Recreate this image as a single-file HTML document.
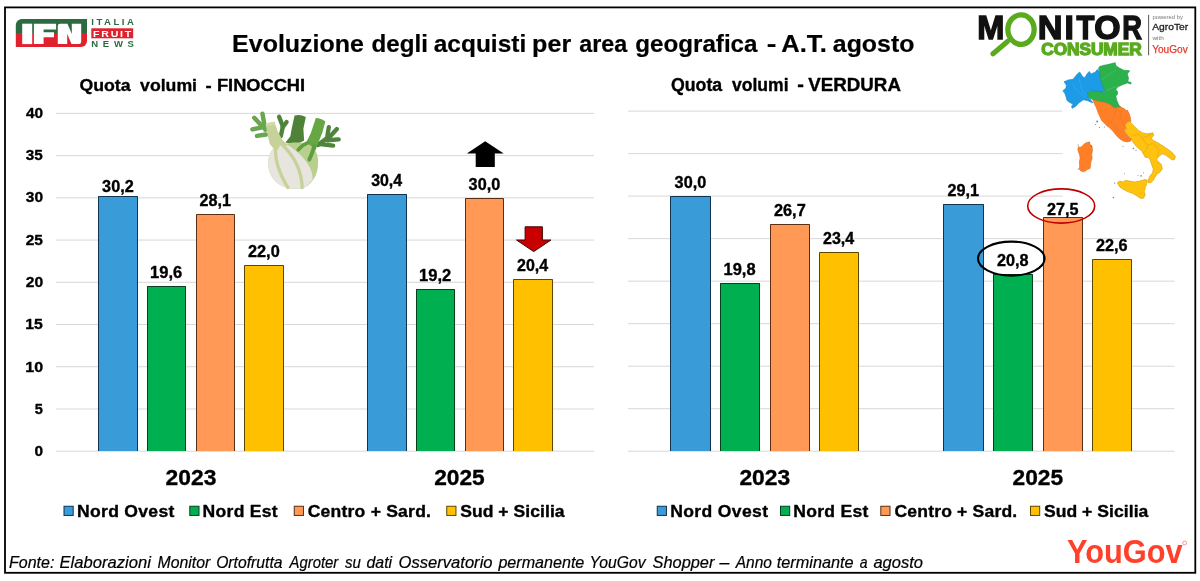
<!DOCTYPE html>
<html><head><meta charset="utf-8"><title>Evoluzione degli acquisti per area geografica</title>
<style>
html,body{margin:0;padding:0;background:#fff;}
body{width:1200px;height:581px;overflow:hidden;font-family:"Liberation Sans",sans-serif;}
svg{display:block;font-family:"Liberation Sans",sans-serif;will-change:transform;}
text{white-space:pre;}
.k{stroke:#000;stroke-width:0.35px;stroke-linejoin:round;}
</style></head><body>
<svg width="1200" height="581" viewBox="0 0 1200 581">
<rect x="0" y="0" width="1200" height="581" fill="#ffffff"/>

<g id="chart1">
<rect x="56" y="112.90" width="538.00" height="1" fill="#d8d8d8"/>
<text x="26.02" y="117.50" font-size="15.2" font-weight="bold" text-anchor="start" fill="#000" textLength="17.08" lengthAdjust="spacingAndGlyphs" class="k">40</text>
<rect x="56" y="155.12" width="538.00" height="1" fill="#d8d8d8"/>
<text x="25.87" y="159.85" font-size="15.2" font-weight="bold" text-anchor="start" fill="#000" textLength="17.00" lengthAdjust="spacingAndGlyphs" class="k">35</text>
<rect x="56" y="197.35" width="538.00" height="1" fill="#d8d8d8"/>
<text x="25.86" y="202.20" font-size="15.2" font-weight="bold" text-anchor="start" fill="#000" textLength="17.24" lengthAdjust="spacingAndGlyphs" class="k">30</text>
<rect x="56" y="239.57" width="538.00" height="1" fill="#d8d8d8"/>
<text x="25.71" y="244.55" font-size="15.2" font-weight="bold" text-anchor="start" fill="#000" textLength="17.16" lengthAdjust="spacingAndGlyphs" class="k">25</text>
<rect x="56" y="281.80" width="538.00" height="1" fill="#d8d8d8"/>
<text x="25.70" y="286.90" font-size="15.2" font-weight="bold" text-anchor="start" fill="#000" textLength="17.41" lengthAdjust="spacingAndGlyphs" class="k">20</text>
<rect x="56" y="324.02" width="538.00" height="1" fill="#d8d8d8"/>
<text x="25.30" y="329.25" font-size="15.2" font-weight="bold" text-anchor="start" fill="#000" textLength="17.58" lengthAdjust="spacingAndGlyphs" class="k">15</text>
<rect x="56" y="366.25" width="538.00" height="1" fill="#d8d8d8"/>
<text x="25.29" y="371.60" font-size="15.2" font-weight="bold" text-anchor="start" fill="#000" textLength="17.84" lengthAdjust="spacingAndGlyphs" class="k">10</text>
<rect x="56" y="408.47" width="538.00" height="1" fill="#d8d8d8"/>
<text x="34.71" y="413.95" font-size="15.2" font-weight="bold" text-anchor="start" fill="#000" textLength="8.12" lengthAdjust="spacingAndGlyphs" class="k">5</text>
<rect x="56" y="450.70" width="538.00" height="1" fill="#d8d8d8"/>
<text x="34.54" y="456.30" font-size="15.2" font-weight="bold" text-anchor="start" fill="#000" textLength="8.55" lengthAdjust="spacingAndGlyphs" class="k">0</text>
<rect x="98" y="196" width="40" height="255" fill="#3a9bd9"/>
<path d="M98.5,451 V196.5 H137.5 V451" fill="none" stroke="#12324d" stroke-width="1"/>
<text x="102.14" y="192.06" font-size="15.6" font-weight="bold" text-anchor="start" fill="#000" textLength="31.58" lengthAdjust="spacingAndGlyphs" class="k">30,2</text>
<rect x="147" y="286" width="39" height="165" fill="#00b050"/>
<path d="M147.5,451 V286.5 H185.5 V451" fill="none" stroke="#06401f" stroke-width="1"/>
<text x="150.06" y="277.58" font-size="15.6" font-weight="bold" text-anchor="start" fill="#000" textLength="32.09" lengthAdjust="spacingAndGlyphs" class="k">19,6</text>
<rect x="196" y="214" width="39" height="237" fill="#ff9955"/>
<path d="M196.5,451 V214.5 H234.5 V451" fill="none" stroke="#5a2f14" stroke-width="1"/>
<text x="199.48" y="205.80" font-size="15.6" font-weight="bold" text-anchor="start" fill="#000" textLength="31.49" lengthAdjust="spacingAndGlyphs" class="k">28,1</text>
<rect x="244" y="265" width="40" height="186" fill="#ffc000"/>
<path d="M244.5,451 V265.5 H283.5 V451" fill="none" stroke="#5e4700" stroke-width="1"/>
<text x="247.98" y="257.31" font-size="15.6" font-weight="bold" text-anchor="start" fill="#000" textLength="31.74" lengthAdjust="spacingAndGlyphs" class="k">22,0</text>
<rect x="367" y="194" width="40" height="257" fill="#3a9bd9"/>
<path d="M367.5,451 V194.5 H406.5 V451" fill="none" stroke="#12324d" stroke-width="1"/>
<text x="371.15" y="186.37" font-size="15.6" font-weight="bold" text-anchor="start" fill="#000" textLength="31.00" lengthAdjust="spacingAndGlyphs" class="k">30,4</text>
<rect x="416" y="289" width="39" height="162" fill="#00b050"/>
<path d="M416.5,451 V289.5 H454.5 V451" fill="none" stroke="#06401f" stroke-width="1"/>
<text x="419.06" y="280.96" font-size="15.6" font-weight="bold" text-anchor="start" fill="#000" textLength="32.18" lengthAdjust="spacingAndGlyphs" class="k">19,2</text>
<rect x="465" y="198" width="39" height="253" fill="#ff9955"/>
<path d="M465.5,451 V198.5 H503.5 V451" fill="none" stroke="#5a2f14" stroke-width="1"/>
<text x="468.64" y="189.75" font-size="15.6" font-weight="bold" text-anchor="start" fill="#000" textLength="31.58" lengthAdjust="spacingAndGlyphs" class="k">30,0</text>
<rect x="513" y="279" width="40" height="172" fill="#ffc000"/>
<path d="M513.5,451 V279.5 H552.5 V451" fill="none" stroke="#5e4700" stroke-width="1"/>
<text x="516.99" y="270.82" font-size="15.6" font-weight="bold" text-anchor="start" fill="#000" textLength="31.16" lengthAdjust="spacingAndGlyphs" class="k">20,4</text>
</g>
<g id="chart2">
<rect x="628" y="110.60" width="434.50" height="1" fill="#d8d8d8"/>
<rect x="628" y="153.11" width="434.50" height="1" fill="#d8d8d8"/>
<rect x="628" y="195.62" width="434.50" height="1" fill="#d8d8d8"/>
<rect x="628" y="238.14" width="546.50" height="1" fill="#d8d8d8"/>
<rect x="628" y="280.65" width="546.50" height="1" fill="#d8d8d8"/>
<rect x="628" y="323.16" width="546.50" height="1" fill="#d8d8d8"/>
<rect x="628" y="365.68" width="546.50" height="1" fill="#d8d8d8"/>
<rect x="628" y="408.19" width="546.50" height="1" fill="#d8d8d8"/>
<rect x="628" y="450.70" width="546.50" height="1" fill="#d8d8d8"/>
<rect x="670" y="196" width="41" height="255" fill="#3a9bd9"/>
<path d="M670.5,451 V196.5 H710.5 V451" fill="none" stroke="#12324d" stroke-width="1"/>
<text x="674.64" y="188.02" font-size="15.6" font-weight="bold" text-anchor="start" fill="#000" textLength="31.58" lengthAdjust="spacingAndGlyphs" class="k">30,0</text>
<rect x="720" y="283" width="40" height="168" fill="#00b050"/>
<path d="M720.5,451 V283.5 H759.5 V451" fill="none" stroke="#06401f" stroke-width="1"/>
<text x="723.56" y="274.75" font-size="15.6" font-weight="bold" text-anchor="start" fill="#000" textLength="32.00" lengthAdjust="spacingAndGlyphs" class="k">19,8</text>
<rect x="770" y="224" width="40" height="227" fill="#ff9955"/>
<path d="M770.5,451 V224.5 H809.5 V451" fill="none" stroke="#5a2f14" stroke-width="1"/>
<text x="773.98" y="216.08" font-size="15.6" font-weight="bold" text-anchor="start" fill="#000" textLength="31.74" lengthAdjust="spacingAndGlyphs" class="k">26,7</text>
<rect x="819" y="252" width="40" height="199" fill="#ffc000"/>
<path d="M819.5,451 V252.5 H858.5 V451" fill="none" stroke="#5e4700" stroke-width="1"/>
<text x="822.99" y="244.14" font-size="15.6" font-weight="bold" text-anchor="start" fill="#000" textLength="31.16" lengthAdjust="spacingAndGlyphs" class="k">23,4</text>
<rect x="943" y="204" width="41" height="247" fill="#3a9bd9"/>
<path d="M943.5,451 V204.5 H983.5 V451" fill="none" stroke="#12324d" stroke-width="1"/>
<text x="947.48" y="195.68" font-size="15.6" font-weight="bold" text-anchor="start" fill="#000" textLength="31.49" lengthAdjust="spacingAndGlyphs" class="k">29,1</text>
<rect x="993" y="274" width="40" height="177" fill="#00b050"/>
<path d="M993.5,451 V274.5 H1032.5 V451" fill="none" stroke="#06401f" stroke-width="1"/>
<text x="996.98" y="266.25" font-size="15.6" font-weight="bold" text-anchor="start" fill="#000" textLength="31.58" lengthAdjust="spacingAndGlyphs" class="k">20,8</text>
<rect x="1043" y="217" width="40" height="234" fill="#ff9955"/>
<path d="M1043.5,451 V217.5 H1082.5 V451" fill="none" stroke="#5a2f14" stroke-width="1"/>
<text x="1046.98" y="214.78" font-size="15.6" font-weight="bold" text-anchor="start" fill="#000" textLength="31.49" lengthAdjust="spacingAndGlyphs" class="k">27,5</text>
<rect x="1092" y="259" width="40" height="192" fill="#ffc000"/>
<path d="M1092.5,451 V259.5 H1131.5 V451" fill="none" stroke="#5e4700" stroke-width="1"/>
<text x="1095.98" y="250.94" font-size="15.6" font-weight="bold" text-anchor="start" fill="#000" textLength="31.66" lengthAdjust="spacingAndGlyphs" class="k">22,6</text>
</g>
<g id="fennel" transform="translate(245,108) scale(0.1445)" stroke-linecap="round" stroke-linejoin="round" fill="none">
<g stroke="#68a64f" stroke-width="31"><path d="M140,150 L121,40"/><path d="M117,124 L64,68"/><path d="M130,132 L51,148"/><path d="M146,184 L83,193"/></g>
<g stroke="#4e853a" stroke-width="30"><path d="M236,60 L262,128"/><path d="M288,97 L262,132"/><path d="M262,128 L248,195"/></g>
<g stroke="#4e853a" stroke-width="30"><path d="M505,256 L584,196"/><path d="M580,132 L570,192"/><path d="M636,146 L588,197"/><path d="M648,217 L572,223"/><path d="M610,260 L520,249"/></g>
<path d="M343,52 Q382,40 421,62 L404,144 L409,225 L350,256 L280,238 L314,196 L323,144 Z" fill="#4f8239"/>
<path d="M490,69 Q528,70 556,93 L536,167 L507,242 L488,292 L440,305 L380,290 L427,231 L456,173 Z" fill="#67a644"/>
<path d="M215,262 C180,290 158,340 161,390 C164,440 180,480 215,510 C250,545 300,560 372,559 C410,557 440,540 468,500 C495,470 508,420 506,360 C504,310 480,270 440,250 C400,235 330,238 290,245 Z" fill="#b9cf8e"/>
<path d="M215,262 C180,290 158,340 161,390 C164,440 180,480 215,510 C250,545 300,560 372,559 C410,557 440,540 468,490 C470,440 440,380 372,314 C340,285 300,255 273,246 Z" fill="#e7e5de"/>
<path d="M212,268 C206,340 222,430 297,551" stroke="#c6d29a" stroke-width="23"/>
<path d="M266,262 C332,328 392,430 396,551" stroke="#c6d29a" stroke-width="23"/>
<path d="M368,290 C390,262 410,250 436,240" stroke="#5f9e3f" stroke-width="25"/>
<path d="M445,356 C465,320 470,290 480,262" stroke="#5f9e3f" stroke-width="27"/>
<path d="M144,117 Q165,96 210,114 L228,165 L255,215 L292,256 L276,276 L244,258 L224,292 L200,282 L172,250 L158,195 Z" fill="#c6d29a"/>
<ellipse cx="177" cy="110" rx="35" ry="12" transform="rotate(-12 177 110)" fill="#d3dba8"/>
</g>
<polygon points="485.2,141.2 503.7,153.5 494.8,153.5 494.8,166.9 475.7,166.9 475.7,153.5 466.8,153.5" fill="#000"/>
<polygon points="525.1,226.8 542.4,226.8 542.4,240 551,240 533.7,251.6 516.5,240 525.1,240" fill="#c90000" stroke="#3d0808" stroke-width="1" stroke-linejoin="miter"/>
<ellipse cx="1011.3" cy="258.6" rx="33.3" ry="17" fill="none" stroke="#000" stroke-width="2.1"/>
<ellipse cx="1061.2" cy="206" rx="33.5" ry="17.1" fill="none" stroke="#c00000" stroke-width="1.6"/>
<rect x="5" y="7.4" width="1190.3" height="565.4" fill="none" stroke="#000" stroke-width="1.8"/>
<text x="232.13" y="52.2" font-size="23.6" font-weight="bold" text-anchor="start" fill="#000" textLength="131.83" lengthAdjust="spacingAndGlyphs" stroke="#000" stroke-width="0.2">Evoluzione</text>
<text x="371.53" y="52.2" font-size="23.6" font-weight="bold" text-anchor="start" fill="#000" textLength="56.37" lengthAdjust="spacingAndGlyphs" stroke="#000" stroke-width="0.2">degli</text>
<text x="433.77" y="52.2" font-size="23.6" font-weight="bold" text-anchor="start" fill="#000" textLength="92.42" lengthAdjust="spacingAndGlyphs" stroke="#000" stroke-width="0.2">acquisti</text>
<text x="532.12" y="52.2" font-size="23.6" font-weight="bold" text-anchor="start" fill="#000" textLength="39.04" lengthAdjust="spacingAndGlyphs" stroke="#000" stroke-width="0.2">per</text>
<text x="579.30" y="52.2" font-size="23.6" font-weight="bold" text-anchor="start" fill="#000" textLength="48.03" lengthAdjust="spacingAndGlyphs" stroke="#000" stroke-width="0.2">area</text>
<text x="635.28" y="52.2" font-size="23.6" font-weight="bold" text-anchor="start" fill="#000" textLength="122.23" lengthAdjust="spacingAndGlyphs" stroke="#000" stroke-width="0.2">geografica</text>
<text x="766.84" y="52.2" font-size="23.6" font-weight="bold" text-anchor="start" fill="#000" textLength="9.66" lengthAdjust="spacingAndGlyphs" stroke="#000" stroke-width="0.2">-</text>
<text x="781.36" y="52.2" font-size="23.6" font-weight="bold" text-anchor="start" fill="#000" textLength="45.37" lengthAdjust="spacingAndGlyphs" stroke="#000" stroke-width="0.2">A.T.</text>
<text x="832.85" y="52.2" font-size="23.6" font-weight="bold" text-anchor="start" fill="#000" textLength="81.51" lengthAdjust="spacingAndGlyphs" stroke="#000" stroke-width="0.2">agosto</text>
<text x="79.44" y="91.4" font-size="17.4" font-weight="bold" text-anchor="start" fill="#000" textLength="51.21" lengthAdjust="spacingAndGlyphs" class="k">Quota</text>
<text x="140.06" y="91.4" font-size="17.4" font-weight="bold" text-anchor="start" fill="#000" textLength="56.98" lengthAdjust="spacingAndGlyphs" class="k">volumi</text>
<text x="205.41" y="91.4" font-size="17.4" font-weight="bold" text-anchor="start" fill="#000" textLength="6.14" lengthAdjust="spacingAndGlyphs" class="k">-</text>
<text x="216.96" y="91.4" font-size="17.4" font-weight="bold" text-anchor="start" fill="#000" textLength="88.13" lengthAdjust="spacingAndGlyphs" class="k">FINOCCHI</text>
<text x="670.94" y="90.8" font-size="17.5" font-weight="bold" text-anchor="start" fill="#000" textLength="51.21" lengthAdjust="spacingAndGlyphs" class="k">Quota</text>
<text x="731.96" y="90.8" font-size="17.5" font-weight="bold" text-anchor="start" fill="#000" textLength="56.58" lengthAdjust="spacingAndGlyphs" class="k">volumi</text>
<text x="797.25" y="90.8" font-size="17.5" font-weight="bold" text-anchor="start" fill="#000" textLength="6.66" lengthAdjust="spacingAndGlyphs" class="k">-</text>
<text x="808.36" y="90.8" font-size="17.5" font-weight="bold" text-anchor="start" fill="#000" textLength="92.56" lengthAdjust="spacingAndGlyphs" class="k">VERDURA</text>
<text x="165.60" y="485.2" font-size="22.8" font-weight="bold" text-anchor="start" fill="#000" textLength="50.79" lengthAdjust="spacingAndGlyphs" class="k">2023</text>
<text x="434.20" y="485.2" font-size="22.8" font-weight="bold" text-anchor="start" fill="#000" textLength="50.56" lengthAdjust="spacingAndGlyphs" class="k">2025</text>
<text x="739.40" y="485.2" font-size="22.8" font-weight="bold" text-anchor="start" fill="#000" textLength="50.79" lengthAdjust="spacingAndGlyphs" class="k">2023</text>
<text x="1012.50" y="485.2" font-size="22.8" font-weight="bold" text-anchor="start" fill="#000" textLength="50.56" lengthAdjust="spacingAndGlyphs" class="k">2025</text>
<rect x="64.00" y="506.25" width="9.2" height="9.2" fill="#3a9bd9" stroke="#12324d" stroke-width="1"/>
<text transform="translate(78.15,516.7) scale(1.07,1)" x="-1.07" y="0" font-size="16.4" font-weight="bold" fill="#000" letter-spacing="0.288" class="k">Nord Ovest</text>
<rect x="189.80" y="506.25" width="9.2" height="9.2" fill="#00b050" stroke="#06401f" stroke-width="1"/>
<text transform="translate(203.75,516.7) scale(1.07,1)" x="-1.07" y="0" font-size="16.4" font-weight="bold" fill="#000" letter-spacing="0.271" class="k">Nord Est</text>
<rect x="294.25" y="506.25" width="9.2" height="9.2" fill="#ff9955" stroke="#5a2f14" stroke-width="1"/>
<text transform="translate(308.40,516.7) scale(1.07,1)" x="-0.66" y="0" font-size="16.4" font-weight="bold" fill="#000" letter-spacing="0.209" class="k">Centro + Sard.</text>
<rect x="446.75" y="506.25" width="9.2" height="9.2" fill="#ffc000" stroke="#5e4700" stroke-width="1"/>
<text transform="translate(460.65,516.7) scale(1.07,1)" x="-0.49" y="0" font-size="16.4" font-weight="bold" fill="#000" letter-spacing="0.052" class="k">Sud + Sicilia</text>
<rect x="657.25" y="506.25" width="9.2" height="9.2" fill="#3a9bd9" stroke="#12324d" stroke-width="1"/>
<text transform="translate(671.40,516.7) scale(1.07,1)" x="-1.07" y="0" font-size="16.4" font-weight="bold" fill="#000" letter-spacing="0.340" class="k">Nord Ovest</text>
<rect x="780.50" y="506.25" width="9.2" height="9.2" fill="#00b050" stroke="#06401f" stroke-width="1"/>
<text transform="translate(794.40,516.7) scale(1.07,1)" x="-1.07" y="0" font-size="16.4" font-weight="bold" fill="#000" letter-spacing="0.258" class="k">Nord Est</text>
<rect x="880.80" y="506.25" width="9.2" height="9.2" fill="#ff9955" stroke="#5a2f14" stroke-width="1"/>
<text transform="translate(895.15,516.7) scale(1.07,1)" x="-0.66" y="0" font-size="16.4" font-weight="bold" fill="#000" letter-spacing="0.173" class="k">Centro + Sard.</text>
<rect x="1030.50" y="506.25" width="9.2" height="9.2" fill="#ffc000" stroke="#5e4700" stroke-width="1"/>
<text transform="translate(1044.40,516.7) scale(1.07,1)" x="-0.49" y="0" font-size="16.4" font-weight="bold" fill="#000" letter-spacing="0.052" class="k">Sud + Sicilia</text>
<text x="9.02" y="567.6" font-size="16.2" font-weight="normal" font-style="italic" text-anchor="start" fill="#000" textLength="45.37" lengthAdjust="spacingAndGlyphs" stroke="#000" stroke-width="0.2">Fonte:</text>
<text x="59.50" y="567.6" font-size="16.2" font-weight="normal" font-style="italic" text-anchor="start" fill="#000" textLength="91.39" lengthAdjust="spacingAndGlyphs" stroke="#000" stroke-width="0.2">Elaborazioni</text>
<text x="157.53" y="567.6" font-size="16.2" font-weight="normal" font-style="italic" text-anchor="start" fill="#000" textLength="52.74" lengthAdjust="spacingAndGlyphs" stroke="#000" stroke-width="0.2">Monitor</text>
<text x="216.14" y="567.6" font-size="16.2" font-weight="normal" font-style="italic" text-anchor="start" fill="#000" textLength="66.39" lengthAdjust="spacingAndGlyphs" stroke="#000" stroke-width="0.2">Ortofrutta</text>
<text x="289.49" y="567.6" font-size="16.2" font-weight="normal" font-style="italic" text-anchor="start" fill="#000" textLength="48.80" lengthAdjust="spacingAndGlyphs" stroke="#000" stroke-width="0.2">Agroter</text>
<text x="344.92" y="567.6" font-size="16.2" font-weight="normal" font-style="italic" text-anchor="start" fill="#000" textLength="15.89" lengthAdjust="spacingAndGlyphs" stroke="#000" stroke-width="0.2">su</text>
<text x="366.44" y="567.6" font-size="16.2" font-weight="normal" font-style="italic" text-anchor="start" fill="#000" textLength="25.70" lengthAdjust="spacingAndGlyphs" stroke="#000" stroke-width="0.2">dati</text>
<text x="398.59" y="567.6" font-size="16.2" font-weight="normal" font-style="italic" text-anchor="start" fill="#000" textLength="93.97" lengthAdjust="spacingAndGlyphs" stroke="#000" stroke-width="0.2">Osservatorio</text>
<text x="498.40" y="567.6" font-size="16.2" font-weight="normal" font-style="italic" text-anchor="start" fill="#000" textLength="85.95" lengthAdjust="spacingAndGlyphs" stroke="#000" stroke-width="0.2">permanente</text>
<text x="589.60" y="567.6" font-size="16.2" font-weight="normal" font-style="italic" text-anchor="start" fill="#000" textLength="55.91" lengthAdjust="spacingAndGlyphs" stroke="#000" stroke-width="0.2">YouGov</text>
<text x="652.51" y="567.6" font-size="16.2" font-weight="normal" font-style="italic" text-anchor="start" fill="#000" textLength="61.93" lengthAdjust="spacingAndGlyphs" stroke="#000" stroke-width="0.2">Shopper</text>
<text x="719.59" y="567.6" font-size="16.2" font-weight="normal" font-style="italic" text-anchor="start" fill="#000" textLength="9.84" lengthAdjust="spacingAndGlyphs" stroke="#000" stroke-width="0.2">–</text>
<text x="735.77" y="567.6" font-size="16.2" font-weight="normal" font-style="italic" text-anchor="start" fill="#000" textLength="36.20" lengthAdjust="spacingAndGlyphs" stroke="#000" stroke-width="0.2">Anno</text>
<text x="776.77" y="567.6" font-size="16.2" font-weight="normal" font-style="italic" text-anchor="start" fill="#000" textLength="76.80" lengthAdjust="spacingAndGlyphs" stroke="#000" stroke-width="0.2">terminante</text>
<text x="859.72" y="567.6" font-size="16.2" font-weight="normal" font-style="italic" text-anchor="start" fill="#000" textLength="7.79" lengthAdjust="spacingAndGlyphs" stroke="#000" stroke-width="0.2">a</text>
<text x="873.42" y="567.6" font-size="16.2" font-weight="normal" font-style="italic" text-anchor="start" fill="#000" textLength="49.62" lengthAdjust="spacingAndGlyphs" stroke="#000" stroke-width="0.2">agosto</text>
<text x="1066.98" y="563.2" font-size="33.6" font-weight="bold" text-anchor="start" fill="#ff412c" textLength="115.65" lengthAdjust="spacingAndGlyphs" >YouGov</text>
<circle cx="1184.6" cy="543" r="1.9" fill="none" stroke="#ff6a58" stroke-width="0.7"/>
<g id="ifn">
<path d="M22,19 H87 V33.1 H15.8 V25 A6,6 0 0 1 22,19 Z" fill="#2c6a3f"/>
<path d="M15.8,33.1 H87 V41 A6,6 0 0 1 81,47 H15.8 Z" fill="#e0222e"/>
<rect x="22.2" y="23.7" width="10" height="20.4" fill="#fff"/>
<path d="M33.9,23.7 H56.1 V29.5 H43.6 V32.3 H54 V37.2 H43.6 V44.1 H33.9 Z" fill="#fff"/>
<path d="M57.8,26 Q57.8,23.7 60,23.7 H67.5 L71.8,34 V23.7 H81.2 V41.8 Q81.2,44.1 79,44.1 H71.5 L67.2,33.8 V44.1 H57.8 Z" fill="#fff"/>
<text transform="translate(91.90,25.2) scale(1.07,1)" x="-0.58" y="0" font-size="8.9" font-weight="bold" fill="#2c6a3f" letter-spacing="2.356" >ITALIA</text>
<rect x="91.3" y="28.3" width="41.9" height="10" fill="#e0222e"/>
<text transform="translate(93.60,36.7) scale(1.07,1)" x="-0.64" y="0" font-size="9.9" font-weight="bold" fill="#fff" letter-spacing="1.682" >FRUIT</text>
<text transform="translate(91.90,47.1) scale(1.07,1)" x="-0.58" y="0" font-size="8.9" font-weight="bold" fill="#2c6a3f" letter-spacing="4.387" >NEWS</text>
</g>
<g id="monitor">
<text x="977.28" y="38.6" font-size="33.2" font-weight="bold" text-anchor="start" fill="#111" textLength="27.13" lengthAdjust="spacingAndGlyphs" stroke="#111" stroke-width="1.4" stroke-linejoin="miter">M</text>
<text x="1037.77" y="38.6" font-size="33.2" font-weight="bold" text-anchor="start" fill="#111" textLength="24.73" lengthAdjust="spacingAndGlyphs" stroke="#111" stroke-width="1.4" stroke-linejoin="miter">N</text>
<text x="1064.60" y="38.6" font-size="33.2" font-weight="bold" text-anchor="start" fill="#111" textLength="9.39" lengthAdjust="spacingAndGlyphs" stroke="#111" stroke-width="1.4" stroke-linejoin="miter">I</text>
<text x="1076.61" y="38.6" font-size="33.2" font-weight="bold" text-anchor="start" fill="#111" textLength="17.91" lengthAdjust="spacingAndGlyphs" stroke="#111" stroke-width="1.4" stroke-linejoin="miter">T</text>
<text x="1094.25" y="38.6" font-size="33.2" font-weight="bold" text-anchor="start" fill="#111" textLength="26.30" lengthAdjust="spacingAndGlyphs" stroke="#111" stroke-width="1.4" stroke-linejoin="miter">O</text>
<text x="1122.13" y="38.6" font-size="33.2" font-weight="bold" text-anchor="start" fill="#111" textLength="19.68" lengthAdjust="spacingAndGlyphs" stroke="#111" stroke-width="1.4" stroke-linejoin="miter">R</text>
<ellipse cx="1021" cy="29.6" rx="13.15" ry="14.8" fill="none" stroke="#5aaa1e" stroke-width="5.3"/>
<line x1="1007.5" y1="41.5" x2="993" y2="53.8" stroke="#5aaa1e" stroke-width="5.1" stroke-linecap="round"/>
<text x="1041.21" y="54.7" font-size="16.2" font-weight="bold" text-anchor="start" fill="#5aaa1e" textLength="100.40" lengthAdjust="spacingAndGlyphs" stroke="#5aaa1e" stroke-width="1.3" stroke-linejoin="miter">CONSUMER</text>
<rect x="1148.1" y="14.8" width="1" height="40.5" fill="#555"/>
<text x="1152.4" y="19.1" font-size="5.7" font-weight="normal" text-anchor="start" fill="#777" textLength="30.5" lengthAdjust="spacingAndGlyphs" >powered by</text>
<text x="1152.2" y="29.8" font-size="9.9" font-weight="normal" text-anchor="start" fill="#222" textLength="36" lengthAdjust="spacingAndGlyphs" stroke="#222" stroke-width="0.3">AgroTer</text>
<text x="1152.4" y="39.8" font-size="5.7" font-weight="normal" text-anchor="start" fill="#777" textLength="11.4" lengthAdjust="spacingAndGlyphs" >with</text>
<text x="1152.2" y="52.6" font-size="10.8" font-weight="normal" text-anchor="start" fill="#e8392c" textLength="35.5" lengthAdjust="spacingAndGlyphs" stroke="#e8392c" stroke-width="0.25">YouGov</text>
<path d="M1187.6,45.6 l1.2,-1" stroke="#e8392c" stroke-width="0.5"/>
</g>
<g id="italy" stroke-linejoin="round">
<polygon points="1064.0,81.7 1068.3,79.9 1073.1,79.3 1077.3,73.9 1079.7,72.0 1082.1,75.7 1084.5,78.1 1087.5,73.3 1089.3,71.4 1091.1,73.9 1095.4,72.0 1097.2,69.6 1099.6,71.4 1100.2,75.7 1101.4,81.7 1102.6,85.9 1105.0,90.1 1105.6,92.5 1102.0,91.9 1096.0,91.1 1090.5,91.3 1088.1,93.1 1088.1,96.1 1091.1,100.4 1093.0,102.8 1091.1,102.2 1086.9,100.4 1083.3,99.8 1079.1,102.8 1075.5,106.4 1072.5,108.2 1071.3,107.0 1073.1,104.0 1070.1,102.8 1067.0,100.4 1065.8,96.1 1064.6,93.1 1062.8,90.7 1065.8,88.3 1066.4,85.3" fill="#1c9be6" stroke="#1c86c4" stroke-width="0.6"/>
<polygon points="1099.6,66.6 1103.2,65.4 1106.8,64.8 1111.6,63.6 1115.2,62.7 1115.8,65.4 1118.9,67.8 1123.7,70.2 1129.7,70.8 1127.3,73.9 1128.5,78.1 1127.9,81.7 1130.9,82.3 1131.1,84.1 1127.3,82.9 1122.5,84.7 1117.7,87.1 1115.8,89.5 1117.7,91.9 1117.4,94.3 1115.8,96.1 1117.0,101.0 1118.9,105.2 1120.7,107.0 1117.7,107.0 1115.2,108.2 1112.8,107.0 1111.0,105.2 1108.0,103.4 1103.2,102.2 1097.2,101.0 1093.0,99.8 1089.9,98.0 1088.1,96.1 1088.1,93.1 1090.5,91.3 1096.0,91.1 1102.0,91.9 1105.6,92.5 1105.0,90.1 1102.6,85.9 1101.4,81.7 1100.2,75.7 1099.6,71.4 1098.4,68.4" fill="#2bb24c" stroke="#23963f" stroke-width="0.6"/>
<polygon points="1093.0,99.8 1097.2,101.0 1103.2,102.2 1108.0,103.4 1111.0,105.2 1112.8,107.0 1115.2,108.2 1117.7,107.0 1120.7,107.0 1124.3,108.8 1127.3,111.2 1127.3,110.0 1129.1,113.6 1130.3,117.2 1130.9,121.4 1128.5,121.4 1126.1,123.3 1124.9,125.7 1126.1,128.1 1124.3,130.5 1125.5,132.9 1127.3,135.3 1129.7,137.1 1131.5,138.9 1130.3,141.3 1127.3,141.9 1123.7,141.3 1120.7,139.5 1117.7,137.1 1115.2,134.1 1112.8,131.1 1109.8,128.1 1106.8,125.7 1104.4,123.3 1101.4,120.2 1100.2,117.2 1098.4,113.6 1097.2,110.0 1096.0,107.0 1094.2,103.4" fill="#ff7f27" stroke="#e06c1a" stroke-width="0.6"/>
<polygon points="1086.7,142.4 1089.4,142.4 1090.5,144.7 1092.1,146.6 1092.5,150.5 1091.7,154.4 1092.1,158.3 1090.9,162.1 1090.5,166.0 1090.2,168.3 1088.6,169.1 1087.1,169.5 1085.5,171.0 1083.2,171.8 1080.9,171.0 1079.3,169.1 1079.7,166.0 1079.3,162.1 1080.1,158.3 1079.7,155.2 1078.5,152.1 1077.8,149.3 1078.5,146.6 1080.1,147.4 1082.4,145.9 1084.7,143.5" fill="#ff7f27" stroke="#e06c1a" stroke-width="0.6"/>
<circle cx="1078.1" cy="145.1" r="0.7" fill="#4a5f73" opacity="0.7"/>
<circle cx="1089.1" cy="142.2" r="0.7" fill="#4a5f73" opacity="0.7"/>
<circle cx="1091.5" cy="145.9" r="0.7" fill="#4a5f73" opacity="0.7"/>
<circle cx="1078.5" cy="169.1" r="0.7" fill="#4a5f73" opacity="0.7"/>
<polygon points="1127.2,122.3 1130.4,122.3 1134.5,126.4 1138.6,130.4 1142.7,132.9 1147.6,133.7 1152.9,132.9 1153.8,135.4 1151.7,137.8 1152.2,139.9 1156.3,141.9 1161.5,145.0 1167.2,148.8 1172.2,152.4 1175.4,156.5 1174.6,159.4 1172.2,160.0 1169.2,157.8 1165.9,155.3 1162.3,153.8 1159.6,155.8 1157.4,158.2 1156.6,159.9 1159.1,162.3 1161.5,164.8 1162.3,168.9 1159.9,172.2 1157.4,173.8 1155.0,177.1 1153.3,180.3 1150.9,182.8 1148.4,182.8 1148.4,179.5 1150.1,175.4 1152.5,173.0 1153.3,168.9 1151.7,164.8 1150.1,159.9 1148.4,157.4 1145.2,157.4 1143.5,154.2 1141.9,150.9 1138.6,148.4 1135.4,145.2 1132.9,141.9 1131.3,139.4 1131.3,137.0 1128.8,135.4 1126.4,133.7 1124.7,131.3 1126.4,128.8 1125.5,126.4" fill="#ffc20e" stroke="#d39e00" stroke-width="0.6"/>
<polygon points="1117.4,182.8 1119.8,181.1 1123.1,182.0 1125.5,180.3 1129.6,181.1 1134.5,182.0 1139.4,181.1 1145.2,179.5 1147.6,180.3 1146.8,183.6 1145.2,187.7 1144.3,191.8 1145.2,195.1 1143.5,198.3 1140.3,198.3 1137.0,195.9 1132.9,193.4 1128.0,191.8 1123.1,189.3 1119.8,186.9 1118.2,184.4" fill="#ffc20e" stroke="#d39e00" stroke-width="0.6"/>
<g fill="none" stroke="#c9991a" stroke-width="0.5" opacity="0.8">
<polyline points="1132.9,135.4 1138.6,134.5 1141.9,137.8 1145.2,142.7 1147.6,145.2 1146.8,149.3 1143.5,153.3"/>
<polyline points="1141.9,137.8 1147.6,136.2 1152.9,133.2"/>
<polyline points="1147.6,145.2 1152.5,143.5 1156.6,146.8 1159.1,150.9 1157.4,156.6"/>
</g>
<circle cx="1097.2" cy="121.6" r="1.0" fill="#4a5f73" opacity="0.75"/>
<circle cx="1095.6" cy="124.5" r="0.6" fill="#4a5f73" opacity="0.75"/>
<circle cx="1099.5" cy="127.5" r="0.6" fill="#4a5f73" opacity="0.75"/>
<circle cx="1104.5" cy="127" r="0.5" fill="#4a5f73" opacity="0.75"/>
<circle cx="1133.3" cy="148.6" r="0.8" fill="#4a5f73" opacity="0.75"/>
<circle cx="1136" cy="150.5" r="0.6" fill="#4a5f73" opacity="0.75"/>
<circle cx="1123" cy="146.5" r="0.5" fill="#4a5f73" opacity="0.75"/>
<circle cx="1141.1" cy="175.9" r="0.8" fill="#4a5f73" opacity="0.75"/>
<circle cx="1138" cy="175.5" r="0.5" fill="#4a5f73" opacity="0.75"/>
<circle cx="1143.5" cy="172.8" r="0.5" fill="#4a5f73" opacity="0.75"/>
<circle cx="1124.5" cy="173.8" r="0.5" fill="#4a5f73" opacity="0.75"/>
<circle cx="1114.6" cy="183.1" r="0.7" fill="#4a5f73" opacity="0.75"/>
<circle cx="1113.4" cy="197.6" r="0.8" fill="#4a5f73" opacity="0.75"/>
<g fill="none" stroke-width="0.5" opacity="0.55">
<path d="M1079,78 L1081,86 L1083,93 L1088,96" stroke="#6fb6e8"/>
<path d="M1072,84 L1078,92 L1086,98" stroke="#6fb6e8"/>
<path d="M1101,80 L1110,74 L1116,70" stroke="#7fd08f"/>
<path d="M1103,92 L1112,88 L1120,86" stroke="#7fd08f"/>
<path d="M1117,108 L1114,116 L1111,123 L1116,128 L1121,132" stroke="#c96a2a"/>
<path d="M1122,110 L1120,118 L1124,124 L1127,130" stroke="#c96a2a"/>
</g>
</g>
</svg></body></html>
